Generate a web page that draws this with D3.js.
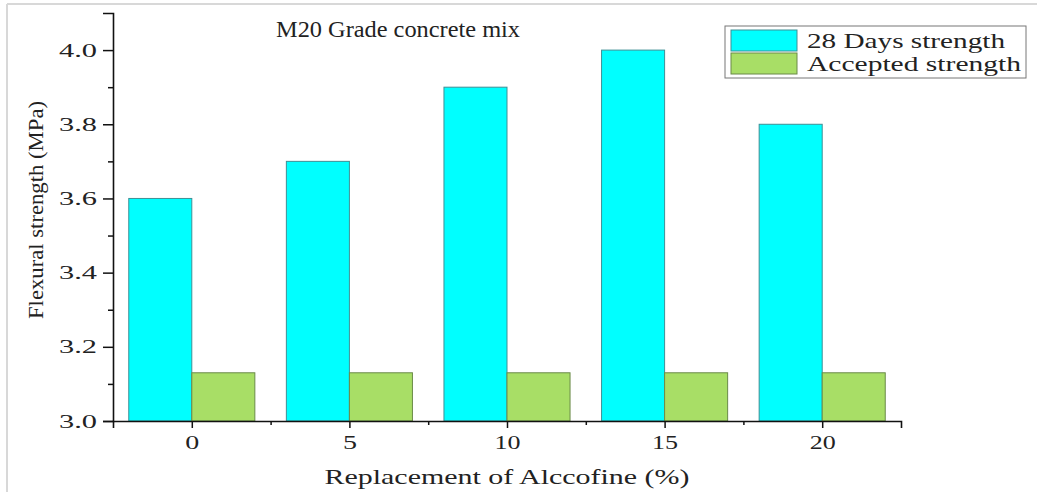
<!DOCTYPE html>
<html>
<head>
<meta charset="utf-8">
<script src="https://cdn.jsdelivr.net/npm/d3@7"></script>
<style>
  html, body { margin: 0; padding: 0; background: #fff; }
  svg { display: block; }
  text { font-family: "Liberation Serif", "Times New Roman", serif; fill: #222; }
</style>
</head>
<body>
<script>
const categories = [0, 5, 10, 15, 20];
const strength28 = [3.6, 3.7, 3.9, 4.0, 3.8];
const accepted = [3.13, 3.13, 3.13, 3.13, 3.13];
const yTicks = [3.0, 3.2, 3.4, 3.6, 3.8, 4.0];
const yMinorTicks = [3.1, 3.3, 3.5, 3.7, 3.9];
const xMinorTicks = [2.5, 7.5, 12.5, 17.5];
const seriesNames = ["28 Days strength", "Accepted strength"];
const colors = ["#00FFFF", "#A8DE66"];
const strokes = ["#3f8f95", "#6a8a48"];

const W = 1037, H = 492;
const svg = d3.select("body").append("svg").attr("width", W).attr("height", H);

// light frame lines (top and left)
svg.append("line").attr("x1", 7).attr("x2", W).attr("y1", 4).attr("y2", 4)
  .attr("stroke", "#d8d8d8").attr("stroke-width", 2);
svg.append("line").attr("x1", 7).attr("x2", 7).attr("y1", 4).attr("y2", H)
  .attr("stroke", "#d8d8d8").attr("stroke-width", 2);

const x = d3.scaleLinear().domain([-2.5, 22.5]).range([113, 901]);
const y = d3.scaleLinear().domain([3.0, 4.1]).range([421, 13]);
const bw = 2; // bar width in data units

// bars
const series = [strength28, accepted];
series.forEach((vals, si) => {
  svg.append("g").selectAll("rect").data(categories).join("rect")
    .attr("x", (c) => si === 0 ? x(c - bw) : x(c))
    .attr("width", x(bw) - x(0))
    .attr("y", (c, i) => y(vals[i]))
    .attr("height", (c, i) => y(3.0) - y(vals[i]))
    .attr("fill", colors[si])
    .attr("stroke", strokes[si])
    .attr("stroke-width", 1);
});

// y axis
svg.append("g").attr("transform", `translate(${x(-2.5)},0)`)
  .call(d3.axisLeft(y).tickValues(yTicks).tickFormat(d3.format(".1f")).tickSize(10).tickPadding(6));
svg.append("g").attr("transform", `translate(${x(-2.5)},0)`)
  .call(d3.axisLeft(y).tickValues(yMinorTicks).tickFormat("").tickSize(5))
  .call(g => g.select(".domain").remove());

// x axis
svg.append("g").attr("transform", `translate(0,${y(3.0)})`)
  .call(d3.axisBottom(x).tickValues(categories).tickFormat(d3.format("d")).tickSize(7).tickPadding(8));
svg.append("g").attr("transform", `translate(0,${y(3.0)})`)
  .call(d3.axisBottom(x).tickValues(xMinorTicks).tickFormat("").tickSize(4))
  .call(g => g.select(".domain").remove());

svg.selectAll(".domain").attr("stroke", "#111").attr("stroke-width", 1.6);
svg.selectAll(".tick line").attr("stroke", "#111").attr("stroke-width", 1.5);
svg.selectAll(".tick text").style("font-family", '"Liberation Serif", serif').style("font-size", "19px").attr("fill", "#222")
  .each(function () {
    const t = d3.select(this);
    const n = t.text().length;
    // reference glyphs are horizontally stretched
    t.attr("textLength", n === 3 ? 38 : n === 2 ? 26 : 14).attr("lengthAdjust", "spacingAndGlyphs");
  });

// title
svg.append("text").attr("x", 276).attr("y", 37).style("font-size", "24px")
  .attr("textLength", 244).attr("lengthAdjust", "spacingAndGlyphs").text("M20 Grade concrete mix");

// axis labels
svg.append("text").attr("x", 507).attr("y", 484).attr("text-anchor", "middle")
  .style("font-size", "21px").attr("textLength", 365).attr("lengthAdjust", "spacingAndGlyphs")
  .text("Replacement of Alccofine (%)");
svg.append("text").attr("transform", "translate(43,210) rotate(-90)").attr("text-anchor", "middle")
  .style("font-size", "21px").attr("textLength", 218).attr("lengthAdjust", "spacingAndGlyphs")
  .text("Flexural strength (MPa)");

// legend
const lg = svg.append("g");
lg.append("rect").attr("x", 725).attr("y", 26).attr("width", 301).attr("height", 52)
  .attr("fill", "#fff").attr("stroke", "#777").attr("stroke-width", 1);
const legendLens = [198, 214];
seriesNames.forEach((n, i) => {
  lg.append("rect").attr("x", 731).attr("y", 30 + i * 23).attr("width", 66).attr("height", 21)
    .attr("fill", colors[i]).attr("stroke", strokes[i]).attr("stroke-width", 1);
  lg.append("text").attr("x", 807).attr("y", 48 + i * 23).style("font-size", "22px")
    .attr("textLength", legendLens[i]).attr("lengthAdjust", "spacingAndGlyphs").text(n);
});
</script>
</body>
</html>
